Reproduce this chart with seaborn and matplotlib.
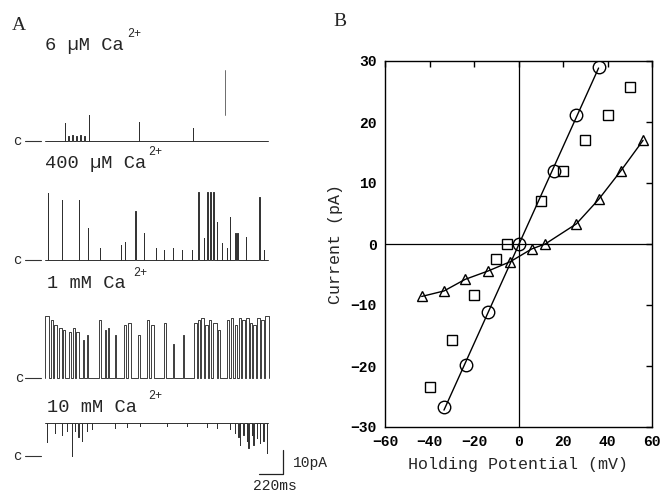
import numpy as np
import pandas as pd
import matplotlib
matplotlib.use("Agg")
import matplotlib.pyplot as plt
import seaborn as sns

# ---------------- Panel B data (I-V relations) ----------------
circ_v = [-33.5, -23.7, -13.5, 0.0, 16.0, 26.0, 36.0]
circ_i = [-26.7, -19.8, -11.2, 0.0, 12.0, 21.2, 29.0]
sq_v = [-40.0, -30.0, -20.0, -10.0, -5.0, 10.0, 20.0, 30.0, 40.0, 50.0]
sq_i = [-23.5, -15.8, -8.4, -2.4, 0.0, 7.0, 12.0, 17.0, 21.2, 25.7]
tri_v = [-43.5, -33.5, -24.0, -13.5, -3.7, 6.0, 12.0, 26.0, 36.0, 46.0, 56.0]
tri_i = [-8.6, -7.7, -5.8, -4.4, -2.9, -0.8, 0.0, 3.3, 7.3, 12.0, 17.0]
xticks_b = [-60, -40, -20, 0, 20, 40, 60]
yticks_b = [-30, -20, -10, 0, 10, 20, 30]

# ---------------- Panel A data (single-channel records) ----------------
trace_labels = ["6 \u00b5M Ca", "400 \u00b5M Ca", "1 mM Ca", "10 mM Ca"]
record_end_ms = [2044, 2044, 2050, 2047]
# 6 uM: brief openings (time ms, amplitude pA, duration ms)
t1_events = [(183, 7.5, 3), (211, 2.0, 8), (248, 2.5, 10), (284, 2.0, 8),
             (321, 2.5, 10), (357, 2.0, 8), (403, 10.8, 3), (862, 7.9, 3),
             (1357, 5.4, 3)]
t1_artifact = (1650, 10.8, 29.6)  # time, from pA, to pA
# 400 uM: openings (time ms, amplitude pA, duration ms)
t2_events = [(28, 27.9, 2), (156, 25.0, 3), (312, 25.0, 3), (394, 13.3, 3),
             (504, 5.0, 3), (697, 6.3, 3), (733, 7.5, 3), (825, 20.4, 10),
             (908, 11.3, 3), (1018, 5.0, 3), (1091, 4.2, 3), (1173, 5.0, 3),
             (1256, 4.2, 3), (1348, 4.2, 3), (1403, 28.3, 12), (1458, 9.2, 3),
             (1485, 28.3, 8), (1513, 28.3, 8), (1540, 28.3, 6), (1577, 15.8, 4),
             (1623, 7.1, 3), (1668, 5.0, 3), (1696, 17.9, 3), (1742, 11.3, 8),
             (1760, 11.3, 6), (1843, 9.6, 3), (1962, 26.3, 6), (2008, 4.2, 3)]
# 1 mM: open intervals (start ms, end ms) and their amplitudes (pA)
t3_open = [(0, 40), (52, 70), (83, 107), (131, 156), (162, 180), (223, 241),
           (254, 272), (284, 309), (345, 357), (382, 397), (492, 516),
           (547, 559), (578, 590), (639, 651), (724, 743), (758, 785),
           (853, 871), (938, 956), (975, 999), (1091, 1109), (1176, 1186),
           (1262, 1274), (1366, 1390), (1403, 1421), (1433, 1458),
           (1470, 1494), (1506, 1525), (1543, 1574), (1586, 1604),
           (1665, 1690), (1702, 1726), (1739, 1763), (1775, 1794),
           (1806, 1830), (1842, 1867), (1879, 1897), (1910, 1934),
           (1946, 1971), (1983, 2008), (2020, 2050)]
t3_amp = [26, 24, 22, 21, 20, 19, 21, 19, 16, 18, 24, 20, 21, 18, 22, 23,
          18, 24, 22, 23, 14, 18, 23, 24, 25, 22, 24, 23, 20, 24, 25, 22,
          25, 24, 25, 23, 22, 25, 24, 26]
# 10 mM: channel mostly open, brief closures (time ms, depth pA)
t4_closures = [(15, 7.9), (92, 4.2), (153, 5.0), (199, 3.3), (244, 13.75),
               (275, 3.3), (306, 5.8), (336, 7.5), (382, 3.3), (428, 2.5),
               (642, 2.1), (749, 1.7), (871, 1.3), (1115, 1.3), (1299, 1.3),
               (1482, 1.7), (1574, 2.1), (1696, 2.5), (1742, 4.2), (1772, 5.8),
               (1788, 9.2), (1818, 5.0), (1849, 7.5), (1864, 10.4), (1894, 5.0),
               (1910, 9.2), (1940, 6.3), (1971, 8.3), (2001, 7.5), (2032, 12.5)]
t4_amp = 13.75
scale_ms = 220
scale_pa = 10

# ---------------- layout helpers ----------------
W, H = 660, 492
MS_PER_PX = 220 / 24.0
PA_PER_PX = 10 / 24.0


def fpos(x, y):
    return x / W, 1 - y / H


def base_pa(ypx):
    return (H - ypx) * PA_PER_PX


def t_of(xpx):
    return (xpx - 45) * MS_PER_PX


sns.set_theme(style="white")
plt.rcParams["font.family"] = ["Liberation Mono", "DejaVu Sans Mono"]
plt.rcParams["axes.unicode_minus"] = True

fig = plt.figure(figsize=(6.6, 4.92), dpi=100)
fig.patch.set_facecolor("white")

# ---------------- Panel A ----------------
axA = fig.add_axes([0, 0, 330 / W, 1])
axA.set_xlim(t_of(0), t_of(330))
axA.set_ylim(0, H * PA_PER_PX)
axA.axis("off")

trace_col = "#303030"
bases = [base_pa(141), base_pa(260), base_pa(378), base_pa(456)]


def draw(t, y, lw=0.7, col=trace_col):
    df = pd.DataFrame({"t": t, "y": y})
    sns.lineplot(data=df, x="t", y="y", sort=False, estimator=None,
                 color=col, lw=lw, ax=axA)


def spikes(base, events, tend):
    t, y = [0], [base]
    for t0, h, d in events:
        t += [t0, t0, t0 + d, t0 + d]
        y += [base, base + h, base + h, base]
    t.append(tend)
    y.append(base)
    return t, y


# trace 1
t, y = spikes(bases[0], t1_events, record_end_ms[0])
draw(t, y)
ta, ya0, ya1 = t1_artifact
draw([ta, ta], [bases[0] + ya0, bases[0] + ya1], lw=0.6, col="#555555")
# trace 2
t, y = spikes(bases[1], t2_events, record_end_ms[1])
draw(t, y)
# trace 3
ev3 = [(s, a, e - s) for (s, e), a in zip(t3_open, t3_amp)]
t, y = spikes(bases[2], ev3, record_end_ms[2])
draw(t, y, lw=0.65)
# trace 4
top = bases[3] + t4_amp
t, y = [0], [top]
for t0, dpt in t4_closures:
    t += [t0, t0, t0 + 3, t0 + 3]
    y += [top, top - dpt, top - dpt, top]
t.append(record_end_ms[3])
y.append(top)
draw(t, y)

# closed-level markers
for b, xc in zip(bases, [13, 13, 15, 13]):
    axA.plot([t_of(25), t_of(41)], [b, b], color="#333333", lw=0.8)
    x, yy = fpos(xc, H - b / PA_PER_PX)
    fig.text(x, yy, "c", fontsize=10, ha="left", va="center")

# labels of traces
lab_pos = [(45, 45), (45, 163), (47, 283), (47, 407)]
sup_pos = [(127, 34), (148, 152), (133, 273), (148, 396)]
for lab, (lx, ly), (sx, sy) in zip(trace_labels, lab_pos, sup_pos):
    fig.text(*fpos(lx, ly), lab, fontsize=13.5, ha="left", va="center")
    fig.text(*fpos(sx, sy), "2+", fontsize=8.5, ha="left", va="center")

# scale bar
xb = t_of(283)
yb = base_pa(474)
axA.plot([xb - scale_ms, xb, xb], [yb, yb, yb + scale_pa], color="#222222", lw=0.9)
fig.text(*fpos(293, 463), "10pA", fontsize=10.5, ha="left", va="center")
fig.text(*fpos(253, 486), "220ms", fontsize=10.5, ha="left", va="center")

fig.text(*fpos(12, 25), "A", fontsize=14, family="Liberation Serif",
         ha="left", va="center")
fig.text(*fpos(333, 22), "B", fontsize=14, family="Liberation Serif",
         ha="left", va="center")

# ---------------- Panel B ----------------
axB = fig.add_axes([385 / W, 65 / H, 267 / W, 366 / H])
axB.axhline(0, color="black", lw=0.9, zorder=1)
axB.axvline(0, color="black", lw=0.9, zorder=1)

sns.regplot(x=circ_v, y=circ_i, ci=None, truncate=True, scatter=False,
            line_kws=dict(color="black", lw=1.0), ax=axB)
sns.lineplot(x=circ_v, y=circ_i, sort=False, estimator=None, color="black",
             linestyle="none", marker="o", markersize=9,
             markerfacecolor="none", markeredgecolor="black",
             markeredgewidth=1.0, ax=axB)
sns.lineplot(x=sq_v, y=sq_i, sort=False, estimator=None, color="black",
             linestyle="none", marker="s", markersize=7,
             markerfacecolor="none", markeredgecolor="black",
             markeredgewidth=1.0, ax=axB)
sns.lineplot(x=tri_v, y=tri_i, sort=False, estimator=None, color="black",
             lw=1.0, marker="^", markersize=7.5,
             markerfacecolor="none", markeredgecolor="black",
             markeredgewidth=1.0, ax=axB)

axB.set_xlim(-60, 60)
axB.set_ylim(-30, 30)
axB.set_xticks(xticks_b)
axB.set_yticks(yticks_b)
axB.tick_params(direction="in", top=True, right=True, length=4, width=1,
                labelsize=10.5, pad=6, colors="black")
for lbl in axB.get_xticklabels() + axB.get_yticklabels():
    lbl.set_fontweight("bold")
for s in axB.spines.values():
    s.set_color("black")
    s.set_linewidth(1.0)
axB.set_xlabel("")
axB.set_ylabel("")
fig.text(*fpos(518, 465), "Holding Potential (mV)", fontsize=12,
         ha="center", va="center")
fig.text(*fpos(336, 244), "Current (pA)", fontsize=12, rotation=90,
         ha="center", va="center")

fig.savefig("out.png", dpi=100, facecolor="white")
